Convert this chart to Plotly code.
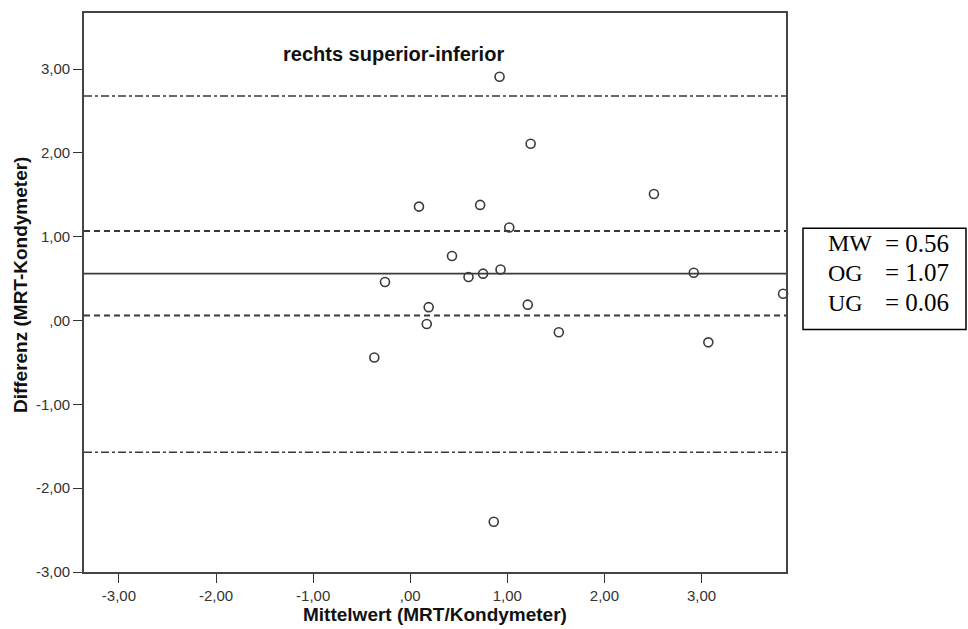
import plotly.graph_objects as go

# Data (Bland-Altman plot)
mean_x = [0.92, 1.24, 2.51, 0.09, 0.72, 1.02, 0.43, -0.26, 0.60, 0.75,
          0.93, 2.92, 3.84, 0.19, 0.17, 1.21, 1.53, -0.37, 3.07, 0.86]
diff_y = [2.91, 2.11, 1.51, 1.36, 1.38, 1.11, 0.77, 0.46, 0.52, 0.56,
          0.61, 0.57, 0.32, 0.16, -0.04, 0.19, -0.14, -0.44, -0.26, -2.40]

mw = 0.56
og = 1.07
ug = 0.06
loa_upper = 2.68
loa_lower = -1.57

tick_vals = [-3, -2, -1, 0, 1, 2, 3]
tick_text = ["-3,00", "-2,00", "-1,00", ",00", "1,00", "2,00", "3,00"]

box_labels = ["MW", "OG", "UG"]
box_values = ["= 0.56", "= 1.07", "= 0.06"]

title_text = "rechts superior-inferior"
x_title = "Mittelwert (MRT/Kondymeter)"
y_title = "Differenz (MRT-Kondymeter)"

line_col = "#3a3a3a"

fig = go.Figure()
fig.add_trace(go.Scatter(
    x=mean_x, y=diff_y, mode="markers", cliponaxis=False,
    marker=dict(symbol="circle-open", size=9, color=line_col,
                line=dict(width=1.6, color=line_col)),
    showlegend=False, hoverinfo="x+y"))

def hline(y, dash, width=1.5):
    fig.add_shape(type="line", xref="paper", yref="y", x0=0, x1=1, y0=y, y1=y,
                  line=dict(color=line_col, width=width, dash=dash), layer="below")

hline(loa_upper, "8px,3px,3px,3px")
hline(og, "6px,4px", 2)
hline(mw, "solid", 1.6)
hline(ug, "6px,4px", 2)
hline(loa_lower, "8px,3px,3px,3px")

axis_common = dict(showgrid=False, zeroline=False, showline=True, mirror=True,
                   linecolor="#444444", linewidth=1.6, ticks="outside", ticklen=9,
                   tickwidth=1.4, tickcolor="#333333",
                   tickfont=dict(family="Liberation Sans, Arial", size=15, color="#333333"),
                   tickvals=tick_vals, ticktext=tick_text)

fig.update_layout(
    width=968, height=629,
    margin=dict(l=84, r=182, t=11, b=57),
    paper_bgcolor="white", plot_bgcolor="white",
    xaxis=dict(range=[-3.36, 3.87], **axis_common),
    yaxis=dict(range=[-3.0, 3.67], **axis_common),
)

annotations = [
    dict(text="<b>" + title_text + "</b>", xref="paper", yref="paper", x=0.4407, y=0.927,
         xanchor="center", yanchor="middle",
         showarrow=False, font=dict(family="Liberation Sans, Arial", size=20, color="#111111")),
    dict(text="<b>" + x_title + "</b>", xref="paper", yref="paper", x=0.4998, y=-0.0766,
         xanchor="center", yanchor="middle",
         showarrow=False, font=dict(family="Liberation Sans, Arial", size=19, color="#111111")),
    dict(text="<b>" + y_title + "</b>", xref="paper", yref="paper", x=-0.0912, y=0.515,
         xanchor="center", yanchor="middle",
         textangle=-90, showarrow=False,
         font=dict(family="Liberation Sans, Arial", size=19, color="#111111")),
]
label_y = [0.5882, 0.5357, 0.4813]
for lab, val, yy in zip(box_labels, box_values, label_y):
    annotations.append(dict(text=lab, xref="paper", yref="paper", x=1.0575, y=yy,
                            xanchor="left", yanchor="middle", showarrow=False,
                            font=dict(family="Liberation Serif, Times New Roman", size=24, color="black")))
    annotations.append(dict(text=val, xref="paper", yref="paper", x=1.138, y=yy,
                            xanchor="left", yanchor="middle", showarrow=False,
                            font=dict(family="Liberation Serif, Times New Roman", size=25, color="black")))
fig.update_layout(annotations=annotations)

fig.add_shape(type="rect", xref="paper", yref="paper", x0=1.0242, x1=1.2564, y0=0.434, y1=0.615,
              line=dict(color="black", width=1.5), fillcolor="rgba(0,0,0,0)")

fig.write_html("out.html")
